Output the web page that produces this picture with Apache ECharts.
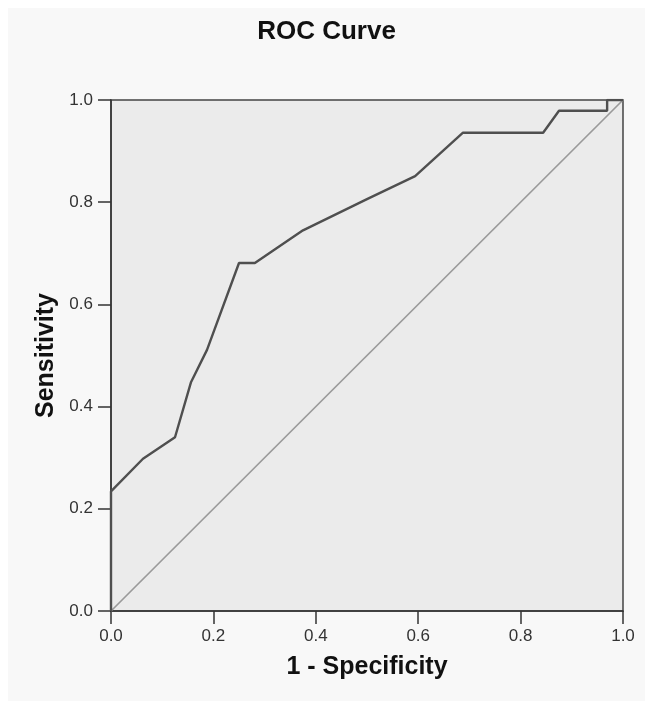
<!DOCTYPE html>
<html>
<head>
<meta charset="utf-8">
<script src="https://cdn.jsdelivr.net/npm/echarts@6/dist/echarts.min.js"></script>
<style>
html,body{margin:0;padding:0;background:#ffffff;}
#c{position:absolute;left:8px;top:8px;width:637px;height:693px;}
</style>
</head>
<body>
<div id="c"></div>
<script>
var fpr = [0, 0, 0.0625, 0.125, 0.156, 0.1875, 0.25, 0.281, 0.375, 0.5, 0.594, 0.6875, 0.844, 0.875, 0.969, 0.969, 1];
var tpr = [0, 0.234, 0.298, 0.340, 0.447, 0.511, 0.681, 0.681, 0.745, 0.806, 0.851, 0.936, 0.936, 0.979, 0.979, 1, 1];
var refX = [0, 1];
var refY = [0, 1];

var rocData = fpr.map(function (x, i) { return [x, tpr[i]]; });
var refData = refX.map(function (x, i) { return [x, refY[i]]; });

var chart = echarts.init(document.getElementById('c'), null, {renderer: 'canvas'});
var axisCommon = {
  type: 'value', min: 0, max: 1, interval: 0.2,
  axisLine: {show: true, onZero: false, lineStyle: {color: '#333', width: 1.5}},
  axisTick: {show: true, inside: false, length: 13, lineStyle: {color: '#333', width: 1.5}},
  splitLine: {show: false},
  axisLabel: {color: '#333', fontSize: 17, fontFamily: 'Liberation Sans, Arial',
    formatter: function (v) { return v.toFixed(1); }},
  nameLocation: 'middle',
  nameTextStyle: {color: '#111', fontSize: 25, fontWeight: 'bold', fontFamily: 'Liberation Sans, Arial'}
};
chart.setOption({
  backgroundColor: '#f8f8f8',
  animation: false,
  title: {
    text: 'ROC Curve', left: 'center', top: 6,
    textStyle: {color: '#111', fontSize: 26, fontWeight: 'bold', fontFamily: 'Liberation Sans, Arial'}
  },
  grid: {left: 103, right: 22, top: 92, bottom: 90, show: true, backgroundColor: '#ebebeb', borderColor: '#444', borderWidth: 1.5},
  xAxis: Object.assign({}, axisCommon, {name: '1 - Specificity', nameGap: 44,
    axisLabel: Object.assign({}, axisCommon.axisLabel, {margin: 17})}),
  yAxis: Object.assign({}, axisCommon, {name: 'Sensitivity', nameGap: 52,
    axisLabel: Object.assign({}, axisCommon.axisLabel, {margin: 18})}),
  series: [
    {type: 'line', data: refData, symbol: 'none', lineStyle: {color: '#9a9a9a', width: 1.7}, z: 2},
    {type: 'line', data: rocData, symbol: 'none', lineStyle: {color: '#4f4f4f', width: 2.4}, z: 3}
  ]
});
</script>
</body>
</html>
